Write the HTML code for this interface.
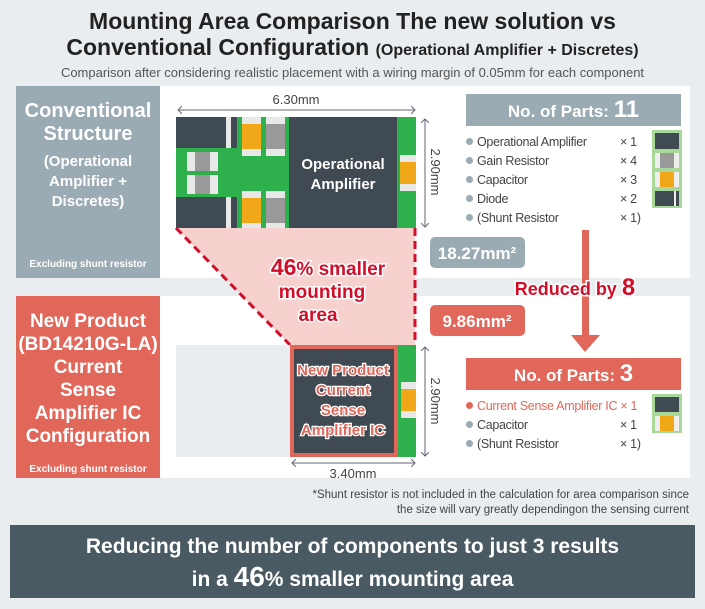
<!DOCTYPE html><html><head><style>
*{margin:0;padding:0;box-sizing:border-box}
body{width:705px;height:609px;background:#e9edf0;font-family:"Liberation Sans",Arial,sans-serif;position:relative;overflow:hidden}
.a{position:absolute}
.t{font-weight:bold;color:#222;text-align:center;width:705px;left:0}
.li{font-size:12.5px;color:#444;letter-spacing:-0.3px}
.dot{display:inline-block;width:7px;height:7px;border-radius:50%;background:#9aabb3;margin-right:4px;vertical-align:1px}
</style></head><body>
<div class="a t" style="top:8px;font-size:23px;line-height:26px">Mounting Area Comparison The new solution vs<br>Conventional Configuration <span style="font-size:16px">(Operational Amplifier + Discretes)</span></div>
<div class="a" style="top:65px;left:0;width:705px;text-align:center;font-size:13px;color:#555">Comparison after considering realistic placement with a wiring margin of 0.05mm for each component</div>

<div class="a" style="left:16px;top:86px;width:674px;height:192px;background:#fff"></div>
<div class="a" style="left:16px;top:296px;width:674px;height:182px;background:#fff"></div>
<div class="a" style="left:16px;top:86px;width:144px;height:192px;background:#9aabb3;color:#fff;font-weight:bold;text-align:center">
<div style="font-size:20px;line-height:23px;margin-top:14px">Conventional<br>Structure</div>
<div style="font-size:15px;line-height:20px;margin-top:6px">(Operational<br>Amplifier +<br>Discretes)</div>
<div style="position:absolute;bottom:8px;width:100%;font-size:10px">Excluding shunt resistor</div></div>
<div class="a" style="left:16px;top:296px;width:144px;height:182px;background:#e0675a;color:#fff;font-weight:bold;text-align:center">
<div style="font-size:19px;line-height:23px;margin-top:14px">New Product<br>(BD14210G-LA)<br>Current<br>Sense<br>Amplifier IC<br>Configuration</div>
<div style="position:absolute;bottom:3px;width:100%;font-size:10px">Excluding shunt resistor</div></div>

<svg class="a" style="left:0;top:0" width="705" height="609">
<defs><marker id="ar" markerWidth="8" markerHeight="8" refX="4" refY="4" orient="auto-start-reverse"><path d="M0,0 L4,4 L0,8" fill="none" stroke="#667" stroke-width="1"/></marker></defs>
<polygon points="176,228 415,228 415,345 290,345" fill="#f6d1cd"/>
<line x1="176" y1="228" x2="290" y2="345" stroke="#d0102a" stroke-width="3" stroke-dasharray="8,5"/>
<line x1="415" y1="228" x2="415" y2="345" stroke="#d0102a" stroke-width="3" stroke-dasharray="8,5"/>
<rect x="176" y="117" width="240" height="111" fill="#2eb04c"/>
<rect x="176" y="117" width="50" height="31" fill="#3f4a52"/>
<rect x="176" y="197" width="50" height="31" fill="#3f4a52"/>
<rect x="226" y="117" width="5" height="31" fill="#e8e8e8"/><rect x="231" y="117" width="6" height="31" fill="#3f4a52"/>
<rect x="226" y="197" width="5" height="31" fill="#e8e8e8"/><rect x="231" y="197" width="6" height="31" fill="#3f4a52"/>
<rect x="187" y="152" width="31" height="19" fill="#e8e8e8"/><rect x="195" y="152" width="15" height="19" fill="#999"/>
<rect x="187" y="175" width="31" height="19" fill="#e8e8e8"/><rect x="195" y="175" width="15" height="19" fill="#999"/>
<rect x="242" y="117" width="19" height="39" fill="#e8e8e8"/><rect x="242" y="124" width="19" height="25" fill="#f0a818"/>
<rect x="266" y="117" width="19" height="39" fill="#e8e8e8"/><rect x="266" y="124" width="19" height="25" fill="#999"/>
<rect x="242" y="191" width="19" height="37" fill="#e8e8e8"/><rect x="242" y="198" width="19" height="25" fill="#f0a818"/>
<rect x="266" y="191" width="19" height="37" fill="#e8e8e8"/><rect x="266" y="198" width="19" height="25" fill="#999"/>
<rect x="289" y="117" width="108" height="111" fill="#3f4a52"/>
<rect x="400" y="155" width="16" height="36" fill="#e8e8e8"/><rect x="400" y="162" width="16" height="22" fill="#f0a818"/>
<text x="343" y="169" fill="#fff" font-size="15" font-weight="bold" text-anchor="middle">Operational</text>
<text x="343" y="189" fill="#fff" font-size="15" font-weight="bold" text-anchor="middle">Amplifier</text>
<line x1="178" y1="110" x2="415" y2="110" stroke="#667" marker-start="url(#ar)" marker-end="url(#ar)"/>
<text x="296" y="104" font-size="13" fill="#444" text-anchor="middle">6.30mm</text>
<line x1="425" y1="119" x2="425" y2="227" stroke="#667" marker-start="url(#ar)" marker-end="url(#ar)"/>
<text transform="translate(431,172) rotate(90)" font-size="13" fill="#444" text-anchor="middle">2.90mm</text>
<rect x="176" y="345" width="114" height="112" fill="#e9edf0"/>
<rect x="290" y="345" width="108" height="112" fill="#e0675a"/>
<rect x="294" y="349" width="100" height="104" fill="#3f4a52"/>
<rect x="398" y="345" width="18" height="112" fill="#2eb04c"/>
<rect x="401" y="382" width="15" height="36" fill="#e8e8e8"/><rect x="401" y="389" width="15" height="22" fill="#f0a818"/>
<g fill="#e0675a" font-size="15" font-weight="bold" text-anchor="middle" stroke="#fff" stroke-width="2.5" paint-order="stroke">
<text x="343" y="375">New Product</text><text x="343" y="395">Current</text><text x="343" y="415">Sense</text><text x="343" y="435">Amplifier IC</text></g>
<line x1="292" y1="463" x2="415" y2="463" stroke="#667" marker-start="url(#ar)" marker-end="url(#ar)"/>
<text x="353" y="478" font-size="13" fill="#444" text-anchor="middle">3.40mm</text>
<line x1="425" y1="347" x2="425" y2="456" stroke="#667" marker-start="url(#ar)" marker-end="url(#ar)"/>
<text transform="translate(431,401) rotate(90)" font-size="13" fill="#444" text-anchor="middle">2.90mm</text>
<g fill="#d0102a" font-weight="bold" text-anchor="middle" stroke="#fff" stroke-width="3" paint-order="stroke">
<text x="328" y="275" font-size="19"><tspan font-size="23">46</tspan>% smaller</text>
<text x="322" y="298" font-size="19">mounting</text><text x="318" y="321" font-size="19">area</text></g>
<rect x="430" y="237" width="95" height="31" rx="5" fill="#9aabb3"/>
<text x="477" y="259" fill="#fff" font-size="17" font-weight="bold" text-anchor="middle">18.27mm²</text>
<rect x="430" y="305" width="95" height="31" rx="5" fill="#e0675a"/>
<text x="477" y="327" fill="#fff" font-size="17" font-weight="bold" text-anchor="middle">9.86mm²</text>
<rect x="582" y="230" width="7" height="112" fill="#e0675a"/>
<polygon points="571,335 600,335 585,352" fill="#e0675a"/>
<text x="575" y="295" fill="#d0102a" font-size="18" font-weight="bold" text-anchor="middle" stroke="#fff" stroke-width="3" paint-order="stroke">Reduced by <tspan font-size="24">8</tspan></text>
<rect x="652" y="130" width="30" height="78" fill="#a8d89a"/>
<rect x="655" y="133" width="24" height="16" fill="#3f4a52"/>
<rect x="655" y="153" width="24" height="15" fill="#eee"/><rect x="660" y="153" width="14" height="15" fill="#999"/>
<rect x="655" y="172" width="24" height="15" fill="#eee"/><rect x="660" y="172" width="14" height="15" fill="#f0a818"/>
<rect x="655" y="191" width="24" height="15" fill="#3f4a52"/><rect x="674" y="191" width="2" height="15" fill="#eee"/>
<rect x="652" y="394" width="30" height="39" fill="#a8d89a"/>
<rect x="655" y="397" width="24" height="15" fill="#3f4a52"/>
<rect x="655" y="416" width="24" height="15" fill="#eee"/><rect x="660" y="416" width="14" height="15" fill="#f0a818"/>
</svg>

<div class="a" style="left:466px;top:94px;width:215px;height:32px;background:#9aabb3;color:#fff;font-weight:bold;font-size:17px;text-align:center;line-height:32px">No. of Parts: <span style="font-size:24px">11</span></div>
<div class="a li" style="left:466px;top:133px;line-height:19px">
<div><span class="dot"></span>Operational Amplifier</div><div><span class="dot"></span>Gain Resistor</div><div><span class="dot"></span>Capacitor</div><div><span class="dot"></span>Diode</div><div><span class="dot"></span>(Shunt Resistor</div></div>
<div class="a li" style="left:620px;top:133px;line-height:19px">× 1<br>× 4<br>× 3<br>× 2<br>× 1)</div>

<div class="a" style="left:466px;top:358px;width:215px;height:32px;background:#e0675a;color:#fff;font-weight:bold;font-size:17px;text-align:center;line-height:32px">No. of Parts: <span style="font-size:24px">3</span></div>
<div class="a li" style="left:466px;top:397px;line-height:19px">
<div style="color:#e0675a"><span class="dot" style="background:#e0675a"></span>Current Sense Amplifier IC × 1</div><div><span class="dot"></span>Capacitor</div><div><span class="dot"></span>(Shunt Resistor</div></div>
<div class="a li" style="left:620px;top:416px;line-height:19px">× 1<br>× 1)</div>

<div class="a" style="right:16px;top:488px;text-align:right;font-size:11.5px;line-height:15px;color:#444">*Shunt resistor is not included in the calculation for area comparison since<br>the size will vary greatly dependingon the sensing current</div>
<div class="a" style="left:10px;top:525px;width:685px;height:73px;background:#4a5a63;color:#fff;font-weight:bold;text-align:center;font-size:21px;line-height:30px;padding-top:7px">Reducing the number of components to just 3 results<br>in a <span style="font-size:28px">46</span>% smaller mounting area</div>
</body></html>
